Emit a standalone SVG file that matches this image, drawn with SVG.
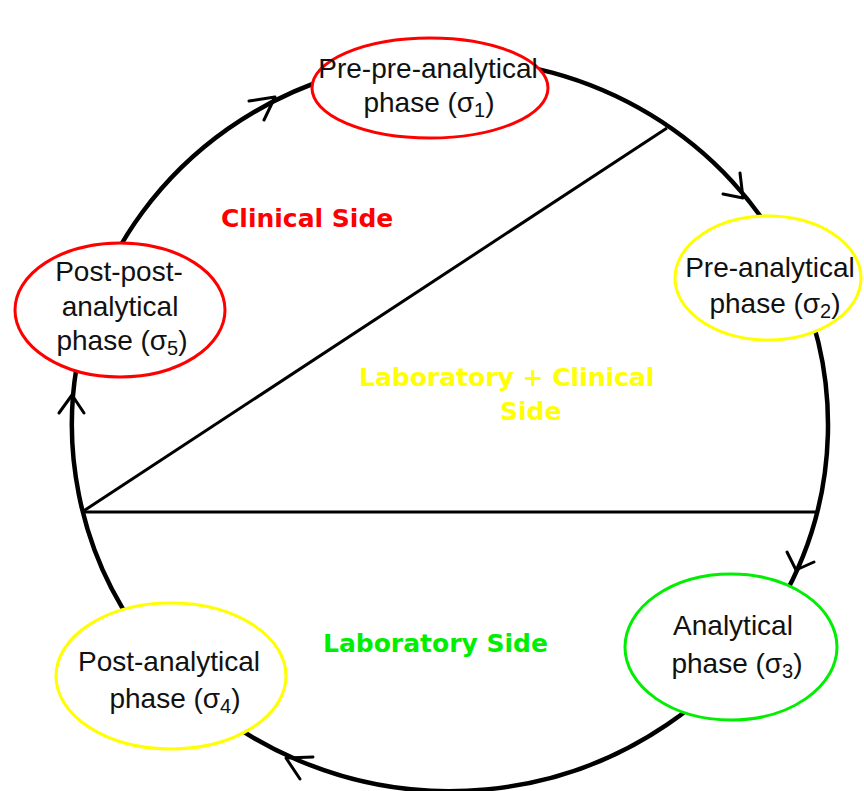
<svg xmlns="http://www.w3.org/2000/svg" width="864" height="791" viewBox="0 0 864 791">
<style>
.cyc{fill:none;stroke:#000;stroke-width:4.5;stroke-linecap:round}
.ah{fill:none;stroke:#000;stroke-width:3;stroke-linecap:round;stroke-linejoin:round}
.div{fill:none;stroke:#000;stroke-width:3}
.node{fill:#fff;stroke-width:3}
.red{stroke:#ff0000}
.yel{stroke:#ffff00}
.grn{stroke:#00ee00}
.nt{font-family:"Liberation Sans",Arial,sans-serif;font-size:28px;fill:#111;text-anchor:middle}
.sub{font-size:20px}
.reg{font-family:"DejaVu Sans",Verdana,sans-serif;font-weight:bold;font-size:25px}
</style>
<rect width="864" height="791" fill="#fff"/>
<g id="dividers">
<line class="div" x1="82" y1="512" x2="667" y2="128"/>
<line class="div" x1="82" y1="512" x2="816" y2="512"/>
</g>
<g id="connectors">
<path class="cyc" d="M90.5 311.9 A378 366 0 0 1 450 59"/>
<path class="cyc" d="M450 59 A378 366 0 0 1 789.8 264.7"/>
<path class="cyc" d="M789.8 264.7 A378 366 0 0 1 780.6 602.5"/>
<path class="cyc" d="M780.6 602.5 A378 366 0 0 1 160.4 660.3"/>
<path class="cyc" d="M160.4 660.3 A378 366 0 0 1 90.5 311.9"/>
<path class="ah" d="M249 101 L275 97 L264 120"/>
<path class="ah" d="M740 173 L743 198 L723 194"/>
<path class="ah" d="M787 552 L796 570 L814 562"/>
<path class="ah" d="M313 757 L286 758 L300 779"/>
<path class="ah" d="M59 413 L72 395 L84 413"/>
</g>
<g id="node-s1">
<ellipse class="node red" cx="430" cy="88" rx="118" ry="50"/>
<text class="nt" x="428" y="78">Pre-pre-analytical</text>
<text class="nt" x="429" y="112">phase (σ<tspan class="sub" dy="5">1</tspan><tspan dy="-5">)</tspan></text>
</g>
<g id="node-s2">
<ellipse class="node yel" cx="768" cy="278" rx="93" ry="62"/>
<text class="nt" x="770" y="277">Pre-analytical</text>
<text class="nt" x="775" y="313">phase (σ<tspan class="sub" dy="5">2</tspan><tspan dy="-5">)</tspan></text>
</g>
<g id="node-s3">
<ellipse class="node grn" cx="731" cy="647" rx="106" ry="73"/>
<text class="nt" x="733" y="635">Analytical</text>
<text class="nt" x="737" y="673">phase (σ<tspan class="sub" dy="5">3</tspan><tspan dy="-5">)</tspan></text>
</g>
<g id="node-s4">
<ellipse class="node yel" cx="171" cy="676" rx="115" ry="73"/>
<text class="nt" x="169" y="671">Post-analytical</text>
<text class="nt" x="175" y="708">phase (σ<tspan class="sub" dy="5">4</tspan><tspan dy="-5">)</tspan></text>
</g>
<g id="node-s5">
<ellipse class="node red" cx="120" cy="310" rx="105" ry="67"/>
<text class="nt" x="119" y="281">Post-post-</text>
<text class="nt" x="120" y="316">analytical</text>
<text class="nt" x="122" y="350">phase (σ<tspan class="sub" dy="5">5</tspan><tspan dy="-5">)</tspan></text>
</g>
<g id="regions">
<text class="reg" x="221" y="227" fill="#ff0000">Clinical Side</text>
<text class="reg" x="359" y="386" fill="#ffff00">Laboratory + Clinical</text>
<text class="reg" x="500" y="420" fill="#ffff00">Side</text>
<text class="reg" x="323" y="652" fill="#00ee00">Laboratory Side</text>
</g>
</svg>
